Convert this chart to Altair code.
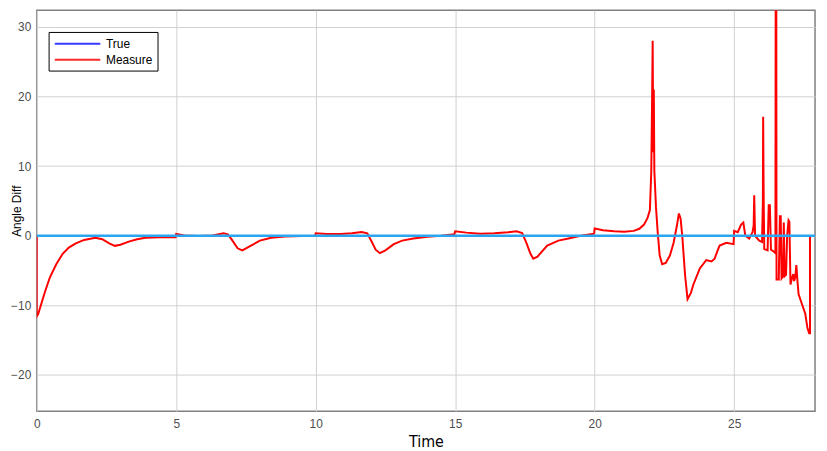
import altair as alt
import pandas as pd

# ---- data ----
time = [0.0, 0.0, 0.05, 0.17, 0.3, 0.47, 0.7, 0.93, 1.15, 1.4, 1.7, 2.1, 2.35, 2.6, 2.8, 3.0, 3.3, 3.6, 3.9, 4.4, 4.98,
        5.0, 5.3, 5.8, 6.3, 6.7, 6.85, 7.0, 7.2, 7.37, 7.6, 8.0, 8.4, 8.9, 9.5, 9.98,
        10.0, 10.4, 10.9, 11.3, 11.65, 11.85, 12.0, 12.15, 12.3, 12.5, 12.8, 13.1, 13.5, 14.0, 14.5, 14.97,
        15.0, 15.4, 15.9, 16.4, 16.9, 17.2, 17.4, 17.55, 17.7, 17.8, 17.95, 18.3, 18.7, 19.1, 19.5, 19.98,
        20.0, 20.3, 20.7, 21.06, 21.4, 21.6, 21.77, 21.9, 21.98, 22.03, 22.06, 22.08, 22.10, 22.12, 22.14,
        22.2, 22.26, 22.33, 22.42, 22.55, 22.7, 22.83, 22.95, 23.02, 23.08, 23.14, 23.24, 23.33, 23.45,
        23.54, 23.77, 24.0, 24.19, 24.3, 24.4, 24.48, 24.72, 24.98,
        25.0, 25.13, 25.25, 25.33, 25.4, 25.54, 25.66, 25.7, 25.72, 25.75, 25.9, 26.0, 26.03, 26.04, 26.06,
        26.08, 26.2, 26.24, 26.28, 26.32, 26.43, 26.48, 26.49, 26.51, 26.52, 26.6, 26.64, 26.67, 26.70,
        26.75, 26.78, 26.81, 26.86, 26.9, 26.95, 26.98, 27.02, 27.08, 27.12, 27.15, 27.19, 27.23, 27.27,
        27.31, 27.43, 27.55, 27.63, 27.69, 27.72, 27.72]
measure = [0.0, -11.6, -11.3, -9.7, -8.0, -6.0, -4.1, -2.6, -1.7, -1.1, -0.6, -0.3, -0.5, -1.1, -1.45, -1.3, -0.85, -0.5, -0.3, -0.2, -0.2,
           0.25, 0.05, -0.05, 0.05, 0.35, 0.2, -0.6, -1.8, -2.1, -1.6, -0.7, -0.3, -0.1, -0.05, 0.0,
           0.35, 0.25, 0.25, 0.35, 0.55, 0.35, -0.8, -2.0, -2.5, -2.1, -1.2, -0.7, -0.4, -0.15, 0.0, 0.2,
           0.65, 0.45, 0.3, 0.35, 0.5, 0.65, 0.4, -1.0, -2.6, -3.3, -3.0, -1.4, -0.7, -0.35, 0.0, 0.3,
           1.05, 0.8, 0.65, 0.56, 0.7, 1.0, 1.6, 2.6, 3.7, 9.3, 20.0, 28.0, 12.0, 21.0, 9.3,
           4.0, 0.5, -2.8, -4.1, -3.9, -2.8, -1.0, 1.5, 3.2, 2.5, 0.0, -5.6, -9.1, -8.2,
           -7.0, -4.7, -3.5, -3.7, -3.3, -2.2, -1.4, -1.0, -1.2,
           0.7, 0.5, 1.6, 1.9, 0.0, -0.4, 0.5, 1.5, 5.8, 0.0, -0.7, -0.9, 5.0, 17.1, 5.0,
           -1.9, -2.1, 4.4, 4.4, -2.0, -2.3, -2.5, 40.0, 40.0, -6.3, -6.3, 2.8, 2.8, -6.1,
           -5.8, 1.9, -5.8, -5.6, 0.0, 2.2, 2.0, -7.0, -6.0, -5.5, -6.5, -6.0, -4.2, -6.5,
           -8.4, -9.8, -11.2, -13.3, -14.0, -14.0, 0.0]
true_time = [0.0, 27.9]
true_vals = [0.0, 0.0]
series_names = ["True", "Measure"]
x_ticks = [0, 5, 10, 15, 20, 25]
y_ticks = [-20, -10, 0, 10, 20, 30]

df_m = pd.DataFrame({"t": time, "v": measure, "i": list(range(len(time)))})
df_t = pd.DataFrame({"t": true_time, "v": true_vals, "i": list(range(len(true_time)))})
df_leg = pd.DataFrame({"t": [0, 1, 0, 1], "v": [0, 0, 0, 0],
                       "series": [series_names[0]] * 2 + [series_names[1]] * 2})

xs = alt.Scale(domain=[0, 27.9], nice=False, zero=False)
ys = alt.Scale(domain=[-25.2, 32.4], nice=False, zero=False)

xax = alt.Axis(values=x_ticks, title="Time", grid=True, domain=False, ticks=False,
               labelPadding=7, labelFlush=False,
               titleFont="DejaVu Sans Condensed, Liberation Sans", titleFontSize=16,
               titleFontWeight="normal", titleColor="black", titlePadding=5)
yax = alt.Axis(values=y_ticks, title="Angle Diff", grid=True, domain=False, ticks=False,
               labelPadding=6, labelFlush=False,
               titleFont="Liberation Sans", titleFontSize=12, titleFontWeight="normal",
               titleColor="black", titleX=-16, titleBaseline="alphabetic")

X = alt.X("t:Q", scale=xs, axis=xax)
Y = alt.Y("v:Q", scale=ys, axis=yax)

legend_layer = alt.Chart(df_leg).mark_line(opacity=0).encode(
    x=X, y=Y,
    color=alt.Color("series:N",
                    scale=alt.Scale(domain=series_names, range=["#3a3aff", "#ff2a2a"]),
                    legend=alt.Legend(title=None, orient="none", legendX=12, legendY=22,
                                      symbolType="M-1,0L7,0", symbolSize=132, symbolStrokeWidth=2,
                                      symbolOpacity=1, labelFontSize=12, labelFont="Liberation Sans",
                                      labelColor="black", strokeColor="black", fillColor="white",
                                      padding=5, rowPadding=3, labelOffset=39)),
)

red = alt.Chart(df_m).mark_line(color="#ff0000", strokeWidth=2, clip=True).encode(
    x=X, y=Y, order=alt.Order("i:Q"))
blue = alt.Chart(df_t).mark_line(color="#2aa6f0", strokeWidth=2.5, clip=True).encode(
    x=X, y=Y, order=alt.Order("i:Q"))

chart = alt.layer(legend_layer, red, blue).properties(
    width=786, height=405,
    autosize=alt.AutoSizeParams(type="none"),
    padding={"left": 29, "top": 0, "right": 4, "bottom": 38},
).configure_view(
    stroke="#808080", strokeWidth=1.5
).configure_axis(
    labelFont="Liberation Sans", labelFontSize=12, labelColor="#4d4d4d",
    gridColor="#d0d0d0", gridWidth=1
)

chart.save("out.html", embed_options={"renderer": "svg", "actions": False})
